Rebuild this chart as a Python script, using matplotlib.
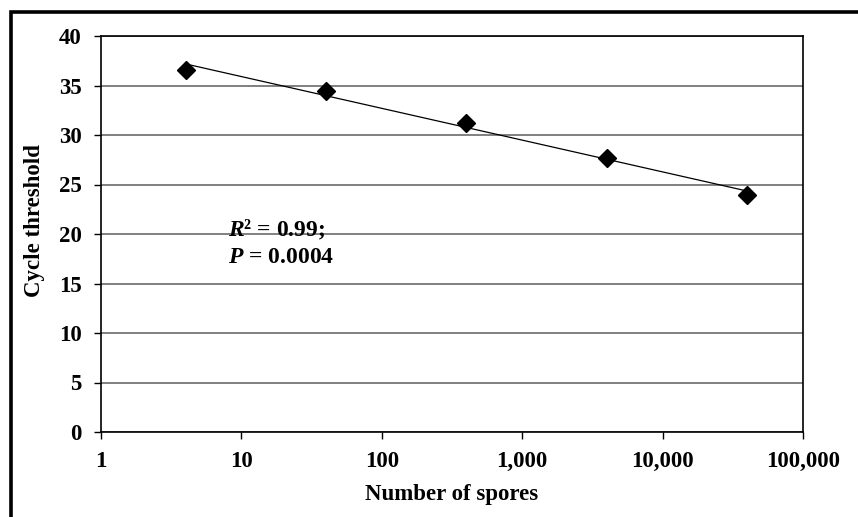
import numpy as np
import matplotlib
matplotlib.use("Agg")
import matplotlib.pyplot as plt
from matplotlib.patches import Rectangle
from matplotlib.ticker import FixedLocator, FuncFormatter, NullLocator

plt.rcParams['font.family'] = ['Liberation Serif', 'DejaVu Serif']
plt.rcParams['font.weight'] = 'bold'
plt.rcParams['mathtext.fontset'] = 'custom'
plt.rcParams['mathtext.it'] = 'Liberation Serif:italic:bold'
plt.rcParams['mathtext.rm'] = 'Liberation Serif:bold'

# data
spores = [4, 40, 400, 4000, 40000]
ct = [36.6, 34.4, 31.2, 27.7, 23.9]
x_ticks = [1, 10, 100, 1000, 10000, 100000]
y_ticks = [0, 5, 10, 15, 20, 25, 30, 35, 40]

# log-linear trend line
slope, icpt = np.polyfit(np.log10(spores), ct, 1)
trend_x = np.array([spores[0], spores[-1]])
trend_y = slope * np.log10(trend_x) + icpt

fig = plt.figure(figsize=(8.58, 5.17), dpi=100)
ax = fig.add_axes([101/858, 1 - 432/517, 702/858, 396/517])

ax.plot(trend_x, trend_y, color='black', lw=0.9, zorder=3)
ax.plot(spores, ct, linestyle='none', marker='D', markersize=9.5,
        color='black', zorder=4)

ax.set_xscale('log')
ax.set_xlim(1, 100000)
ax.set_ylim(0, 40)
ax.xaxis.set_major_locator(FixedLocator(x_ticks))
ax.xaxis.set_minor_locator(NullLocator())
ax.xaxis.set_major_formatter(FuncFormatter(lambda v, p: f"{int(round(v)):,}"))
ax.set_yticks(y_ticks)

ax.yaxis.grid(True, color='#808080', lw=1.4)
ax.set_axisbelow(True)
for s in ax.spines.values():
    s.set_color('black')
    s.set_linewidth(1.2)

ax.tick_params(axis='both', direction='out', length=5, width=1,
               labelsize=16.5, color='black')
ax.tick_params(axis='x', pad=9)
ax.tick_params(axis='y', pad=9)

ax.set_xlabel("Number of spores", fontsize=16.5, fontweight='bold', labelpad=8)
ax.set_ylabel("Cycle threshold", fontsize=16.5, fontweight='bold', labelpad=10)
ax.yaxis.label.set_y(0.535)

ax.text(8.07, 19.8, "$R$² = 0.99;", fontsize=17, fontweight='bold',
        va='baseline', ha='left')
ax.text(8.07, 17.05, "$P$ = 0.0004", fontsize=17, fontweight='bold',
        va='baseline', ha='left')

# outer chart frame, cut off at right and bottom like the original
fig.patches.append(Rectangle((11/858, -0.05), 1.05, 1 - 12/517 + 0.05,
                             transform=fig.transFigure, fill=False,
                             edgecolor='black', lw=2.6))

fig.savefig("out.png", dpi=100)
